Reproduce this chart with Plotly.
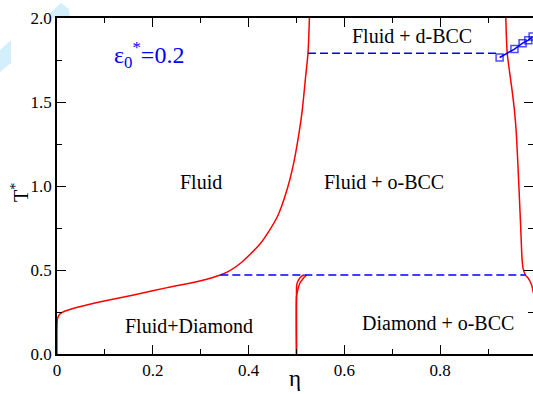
import plotly.graph_objects as go

# ---- data ----
fluid_eta = [0, 0, 0.001, 0.006, 0.017, 0.028, 0.06, 0.091, 0.16, 0.23, 0.30, 0.341,
             0.36, 0.383, 0.425, 0.46, 0.48, 0.494, 0.505, 0.512, 0.519, 0.524, 0.527]
fluid_T = [0, 0.15, 0.21, 0.238, 0.256, 0.266, 0.29, 0.311, 0.351, 0.395, 0.436, 0.47,
           0.495, 0.54, 0.659, 0.817, 0.976, 1.135, 1.31, 1.45, 1.65, 1.79, 2.0]

right_eta = [0.937, 0.940, 0.950, 0.955, 0.959, 0.964, 0.968, 0.971, 0.973, 0.978,
             0.984, 0.991, 0.994, 1.0]
right_T = [2.0, 1.79, 1.571, 1.45, 1.31, 1.016, 0.758, 0.56, 0.51, 0.47,
           0.45, 0.41, 0.371, 0.30]

diamA_eta = [0.5, 0.5, 0.5005, 0.504, 0.511, 0.516]
diamA_T = [0, 0.34, 0.411, 0.44, 0.464, 0.47]
diamB_eta = [0.5, 0.5, 0.5025, 0.507, 0.514, 0.521]
diamB_T = [0, 0.34, 0.381, 0.421, 0.45, 0.47]

tie_low_eta = [0.341, 0.978]
tie_low_T = [0.47, 0.47]
tie_high_eta = [0.524, 0.92]
tie_high_T = [1.79, 1.79]

dbcc_eta = [0.924, 0.94, 0.955, 0.972, 0.984, 0.993]
dbcc_T = [1.765, 1.79, 1.815, 1.85, 1.868, 1.89]

x_tickvals = [0, 0.2, 0.4, 0.6, 0.8]
x_ticktext = ["0", "0.2", "0.4", "0.6", "0.8"]
y_tickvals = [0, 0.5, 1.0, 1.5, 2.0]
y_ticktext = ["0.0", "0.5", "1.0", "1.5", "2.0"]

region_labels = ["Fluid + d-BCC", "Fluid", "Fluid + o-BCC", "Fluid+Diamond", "Diamond + o-BCC"]
region_eta = [0.612, 0.252, 0.553, 0.138, 0.633]
region_T = [1.893, 1.024, 1.024, 0.167, 0.185]

# ---- figure ----
W, H = 533, 394
ML, MR, MT, MB = 57, 0, 18, 40
PW = W - ML - MR
PH = H - MT - MB
PX_PER_ETA = 479.0
FONT = "Liberation Serif, Times New Roman, serif"
RED = "#ff0000"
BLUE = "#0000ff"

fig = go.Figure()

red_line = dict(color=RED, width=1.5, shape="spline", smoothing=0.7)
for xs, ys in [(fluid_eta, fluid_T), (right_eta, right_T),
               (diamA_eta, diamA_T), (diamB_eta, diamB_T)]:
    fig.add_trace(go.Scatter(x=xs, y=ys, mode="lines", line=red_line,
                             showlegend=False, hoverinfo="skip"))

blue_dash = dict(color=BLUE, width=1.5, dash="8px,4px")
for xs, ys in [(tie_low_eta, tie_low_T), (tie_high_eta, tie_high_T)]:
    fig.add_trace(go.Scatter(x=xs, y=ys, mode="lines", line=blue_dash,
                             showlegend=False, hoverinfo="skip"))

fig.add_trace(go.Scatter(
    x=dbcc_eta, y=dbcc_T, mode="lines+markers",
    line=dict(color=BLUE, width=1.5),
    marker=dict(symbol="square-open", color=BLUE, size=[7, 0, 7, 7, 7, 7],
                line=dict(color=BLUE, width=1.5)),
    showlegend=False, hoverinfo="skip"))

annotations = []
for txt, xv, yv in zip(region_labels, region_eta, region_T):
    annotations.append(dict(x=xv, y=yv, xref="x", yref="y", text=txt,
                            showarrow=False, xanchor="left", yanchor="middle",
                            font=dict(family=FONT, size=20, color="black")))

annotations.append(dict(x=0.115, y=1.78, xref="x", yref="y",
                        text="ε<sub>0</sub><sup>*</sup>=0.2", showarrow=False,
                        xanchor="left", yanchor="middle",
                        font=dict(family=FONT, size=24, color=BLUE)))

# axis titles
annotations.append(dict(x=(20 - ML) / PW, y=0.958, xref="paper", yref="y",
                        text="T<sup>*</sup>", showarrow=False, textangle=-90,
                        xanchor="center", yanchor="middle",
                        font=dict(family=FONT, size=20, color="black")))
annotations.append(dict(x=0.497, y=-39 / PH, xref="x", yref="paper",
                        text="η", showarrow=False, xanchor="center", yanchor="bottom",
                        font=dict(family=FONT, size=23, color="black")))

def px2paper(px, py):
    return (px - ML) / PW, (H - MB - py) / PH

def poly(points):
    pts = [px2paper(a, b) for a, b in points]
    return "M " + " L ".join(f"{a:.4f},{b:.4f}" for a, b in pts) + " Z"

wm_color = "#d3effb"
shapes = [
    dict(type="path", xref="paper", yref="paper", layer="below",
         path=poly([(50, 18), (50, 13), (61, 3), (69, 9), (70, 18)]),
         fillcolor=wm_color, line=dict(width=0)),
    dict(type="path", xref="paper", yref="paper", layer="below",
         path=poly([(0, 50), (11, 40), (11, 63), (0, 72)]),
         fillcolor=wm_color, line=dict(width=0)),
]

axis_common = dict(
    showgrid=False, zeroline=False, showline=True, linecolor="black", linewidth=1.5,
    mirror="allticks", ticks="inside", ticklen=9, tickwidth=1.2, tickcolor="black",
    tickfont=dict(family=FONT, size=17, color="black"), automargin=False,
)

fig.update_layout(
    width=W, height=H,
    margin=dict(l=ML, r=MR, t=MT, b=MB, pad=0, autoexpand=False),
    font=dict(family=FONT, color="black"),
    paper_bgcolor="white", plot_bgcolor="white",
    xaxis=dict(range=[0, PW / PX_PER_ETA], tickvals=x_tickvals, ticktext=x_ticktext,
               minor=dict(ticks="inside", ticklen=5, dtick=0.1, tick0=0,
                          tickwidth=1.2, tickcolor="black", showgrid=False),
               **axis_common),
    yaxis=dict(range=[0, 2.0], tickvals=y_tickvals, ticktext=y_ticktext,
               minor=dict(ticks="inside", ticklen=5, dtick=0.25, tick0=0,
                          tickwidth=1.2, tickcolor="black", showgrid=False),
               **axis_common),
    annotations=annotations,
    shapes=shapes,
)

fig.write_html(
    "out.html",
    config={"displayModeBar": False},
    post_script="document.body.style.margin='0';document.body.style.overflow='hidden';",
)
